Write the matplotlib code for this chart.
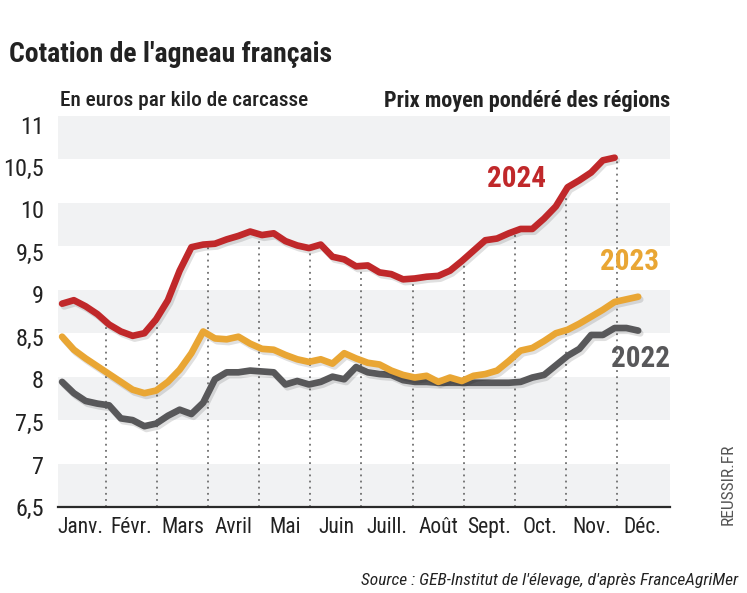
import numpy as np
import matplotlib
matplotlib.use("Agg")
import matplotlib.pyplot as plt
import matplotlib.patheffects as pe
import matplotlib.transforms as mtrans
from matplotlib import font_manager as fm

# ---------------- data ----------------
months = ["Janv.", "Févr.", "Mars", "Avril", "Mai", "Juin", "Juill.", "Août",
          "Sept.", "Oct.", "Nov.", "Déc."]
yticks = [6.5, 7, 7.5, 8, 8.5, 9, 9.5, 10, 10.5, 11]
ytick_labels = ["6,5", "7", "7,5", "8", "8,5", "9", "9,5", "10", "10,5", "11"]

# weekly prices (EUR / kg carcass), one value per week from early January
v2024 = [8.84, 8.88, 8.81, 8.72, 8.60, 8.52, 8.47, 8.50, 8.66, 8.88,
         9.22, 9.49, 9.52, 9.53, 9.58, 9.62, 9.67, 9.63, 9.65, 9.56,
         9.51, 9.48, 9.52, 9.38, 9.35, 9.27, 9.28, 9.20, 9.18, 9.12,
         9.13, 9.15, 9.16, 9.22, 9.33, 9.45, 9.57, 9.59, 9.65, 9.70,
         9.70, 9.82, 9.96, 10.18, 10.26, 10.35, 10.49, 10.52]
v2023 = [8.46, 8.31, 8.21, 8.12, 8.03, 7.94, 7.85, 7.81, 7.84, 7.94,
         8.08, 8.27, 8.52, 8.44, 8.43, 8.46, 8.38, 8.32, 8.31, 8.25,
         8.20, 8.17, 8.20, 8.15, 8.27, 8.21, 8.16, 8.14, 8.07, 8.02,
         7.99, 8.01, 7.94, 7.99, 7.95, 8.01, 8.03, 8.07, 8.18, 8.30,
         8.33, 8.41, 8.50, 8.54, 8.61, 8.69, 8.77, 8.86, 8.89, 8.92]
v2022 = [7.94, 7.81, 7.72, 7.69, 7.67, 7.52, 7.50, 7.43, 7.46, 7.55,
         7.62, 7.57, 7.70, 7.97, 8.05, 8.05, 8.07, 8.06, 8.05, 7.91,
         7.95, 7.91, 7.94, 8.00, 7.97, 8.11, 8.05, 8.03, 8.02, 7.96,
         7.94, 7.94, 7.93, 7.93, 7.93, 7.93, 7.93, 7.93, 7.93, 7.94,
         7.99, 8.02, 8.13, 8.24, 8.32, 8.48, 8.48, 8.56, 8.56, 8.53]

# ---------------- fonts ----------------
avail = {f.name for f in fm.fontManager.ttflist}
COND = next((n for n in ["Roboto Condensed", "Liberation Sans Narrow",
                         "Open Sans Condensed", "Roboto"] if n in avail), "DejaVu Sans")

RED = "#c0282a"
YEL = "#e9a634"
GRY = "#58585a"
DARK = "#222222"

W, H = 747, 593
fig = plt.figure(figsize=(W / 100, H / 100), dpi=100)
fig.patch.set_facecolor("white")

# axes placed in pixel coordinates
L, R, T, B = 58, 670, 116, 507
ax = fig.add_axes([L / W, 1 - B / H, (R - L) / W, (B - T) / H])
ax.set_xlim(0.06, 12.04)
ax.set_ylim(6.5, 11)

# horizontal bands
for lo in [6.5, 7.5, 8.5, 9.5, 10.5]:
    ax.axhspan(lo, lo + 0.5, color="#f1f2f3", lw=0, zorder=0)

STEP = 7 * 12 / 365.0
def xpos(vals, x0=0.14):
    return x0 + STEP * np.arange(len(vals))

x24, x23, x22 = xpos(v2024), xpos(v2023), xpos(v2022)

# dotted month separators up to the 2024 line
for m in range(1, 12):
    top = np.interp(m, x24, v2024)
    ax.plot([m, m], [6.5, top], color="#6f6f6f", lw=1.3,
            linestyle=(0, (1, 2.4)), zorder=1)

shadow = [pe.SimpleLineShadow(offset=(1.5, -2), shadow_color="#000000", alpha=0.12),
          pe.Normal()]
for xv, yv, c in [(x22, v2022, GRY), (x23, v2023, YEL), (x24, v2024, RED)]:
    ax.plot(xv, yv, color=c, lw=4.8, solid_capstyle="round",
            solid_joinstyle="round", zorder=3, path_effects=shadow)

# axes styling
for s in ["top", "right", "left"]:
    ax.spines[s].set_visible(False)
ax.spines["bottom"].set_color("#2a2a2a")
ax.spines["bottom"].set_linewidth(1.6)
ax.spines["bottom"].set_zorder(4)

ax.set_yticks(yticks)
ax.set_yticklabels(ytick_labels)
ax.tick_params(axis="y", length=0, pad=10, labelsize=17.5, labelcolor=DARK)
for val, lab in zip(yticks, ax.get_yticklabels()):
    lab.set_fontfamily(COND)
    dy = (val - 6.5) / 4.5 * 8.5  # labels sit slightly lower near the top
    lab.set_transform(lab.get_transform() +
                      mtrans.ScaledTranslation(0, -dy / 100, fig.dpi_scale_trans))

ax.set_xticks(np.arange(12) + 0.5)
ax.set_xticklabels(months)
ax.tick_params(axis="x", length=0, pad=7, labelsize=15.5, labelcolor=DARK)
for lab in ax.get_xticklabels():
    lab.set_fontfamily(COND)

# series labels
ax.text(9.04, 10.27, "2024", color=RED, fontsize=21, fontweight="bold",
        family=COND, ha="center", va="center")
ax.text(11.25, 9.32, "2023", color=YEL, fontsize=21, fontweight="bold",
        family=COND, ha="center", va="center")
ax.text(11.47, 8.20, "2022", color=GRY, fontsize=21, fontweight="bold",
        family=COND, ha="center", va="center")

# titles
fig.text(9 / W, 1 - 55 / H, "Cotation de l'agneau français", fontsize=20,
         fontweight="bold", family=COND, color=DARK, ha="left", va="center")
fig.text(60 / W, 1 - 101 / H, "En euros par kilo de carcasse", fontsize=15.3,
         fontweight="medium", family=COND, color=DARK, ha="left", va="center")
fig.text(670 / W, 1 - 101 / H, "Prix moyen pondéré des régions", fontsize=16,
         fontweight="bold", family=COND, color=DARK, ha="right", va="center")
fig.text(728 / W, 1 - 484 / H, "REUSSIR.FR", fontsize=12.5, rotation=90,
         family=COND, color="#555555", ha="center", va="center")
fig.text(738 / W, 1 - 580 / H,
         "Source : GEB-Institut de l'élevage, d'après FranceAgriMer",
         fontsize=12.5, style="italic", family=COND, color=DARK,
         ha="right", va="center")

fig.savefig("out.png", dpi=100, facecolor="white")
